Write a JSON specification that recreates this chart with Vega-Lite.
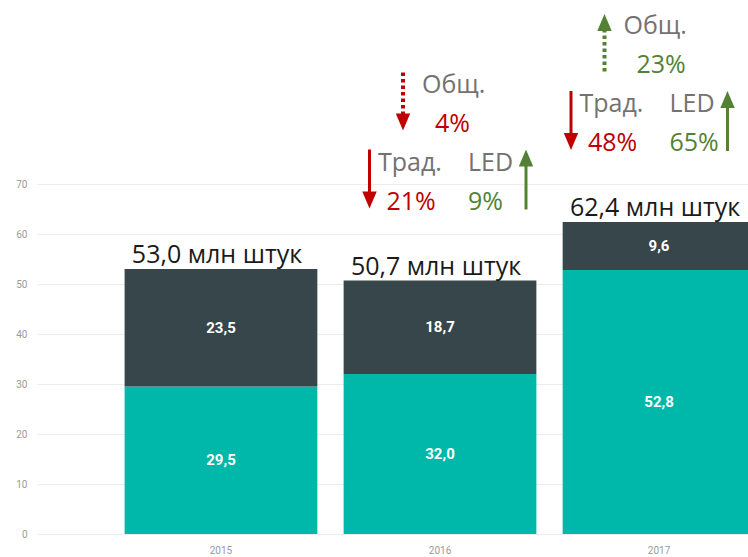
{
  "$schema": "https://vega.github.io/schema/vega-lite/v6.json",
  "autosize": "none",
  "padding": {"left": 37, "top": 0, "right": 0, "bottom": 23},
  "width": 806,
  "height": 534,
  "config": {
    "view": {"stroke": null},
    "locale": {"number": {"decimal": ",", "thousands": " ", "grouping": [3], "currency": ["", ""]}}
  },
  "datasets": {
    "bars": [
      {"year": "2015", "kind": "LED", "value": 29.5},
      {"year": "2015", "kind": "Трад.", "value": 23.5},
      {"year": "2016", "kind": "LED", "value": 32.0},
      {"year": "2016", "kind": "Трад.", "value": 18.7},
      {"year": "2017", "kind": "LED", "value": 52.8},
      {"year": "2017", "kind": "Трад.", "value": 9.6}
    ],
    "totals": [
      {"year": "2015", "total": 53.0, "label": "53,0 млн штук"},
      {"year": "2016", "total": 50.7, "label": "50,7 млн штук"},
      {"year": "2017", "total": 62.4, "label": "62,4 млн штук"}
    ],
    "changes": [
      {"year": "2016", "total": 50.7, "item": "Общ.", "pct": "4%", "dir": "down"},
      {"year": "2017", "total": 62.4, "item": "Общ.", "pct": "23%", "dir": "up"},
      {"year": "2016", "total": 50.7, "item": "Трад.", "pct": "21%", "dir": "down"},
      {"year": "2017", "total": 62.4, "item": "Трад.", "pct": "48%", "dir": "down"},
      {"year": "2016", "total": 50.7, "item": "LED", "pct": "9%", "dir": "up"},
      {"year": "2017", "total": 62.4, "item": "LED", "pct": "65%", "dir": "up"}
    ]
  },
  "layer": [
    {
      "layer": [
        {
          "data": {"name": "bars"},
          "mark": {"type": "bar"},
          "encoding": {
            "x": {
              "field": "year", "type": "nominal",
              "scale": {"type": "band", "paddingInner": 0.12, "paddingOuter": 0.4},
              "axis": {"title": null, "labelAngle": 0, "domain": false, "ticks": false, "grid": false, "labelPadding": 11, "labelColor": "#9a9a9a", "labelFont": "Roboto", "labelFontSize": 10}
            },
            "y": {
              "field": "value", "type": "quantitative", "stack": "zero",
              "scale": {"domain": [0, 106.8], "nice": false, "zero": true},
              "axis": {"title": null, "values": [0, 10, 20, 30, 40, 50, 60, 70], "domain": false, "ticks": false, "labelPadding": 10, "gridColor": "#ececec", "labelColor": "#9a9a9a", "labelFont": "Roboto", "labelFontSize": 10}
            },
            "color": {"field": "kind", "type": "nominal", "scale": {"domain": ["LED", "Трад."], "range": ["#00B8AA", "#37464B"]}, "legend": null},
            "order": {"field": "kind", "sort": "ascending"}
          }
        },
        {
          "data": {"name": "bars"},
          "mark": {"type": "text", "color": "white", "font": "Roboto", "fontSize": 15, "fontWeight": "bold", "baseline": "middle"},
          "encoding": {
            "x": {"field": "year", "type": "nominal"},
            "y": {"field": "value", "type": "quantitative", "stack": "zero", "bandPosition": 0.5, "title": null},
            "detail": {"field": "kind"},
            "order": {"field": "kind", "sort": "ascending"},
            "text": {"field": "value", "type": "quantitative", "format": ".1f"}
          }
        },
        {
          "data": {"name": "totals"},
          "mark": {"type": "text", "font": "Open Sans", "fontSize": 25, "color": "#1a1a1a", "baseline": "alphabetic", "dy": -6, "dx": -4},
          "encoding": {
            "x": {"field": "year", "type": "nominal"},
            "y": {"field": "total", "type": "quantitative", "title": null},
            "text": {"field": "label"}
          }
        }
      ]
    },
    {
      "data": {"name": "changes"},
      "encoding": {
        "x": {"field": "year", "type": "nominal", "scale": {"type": "point", "padding": 1, "domain": ["2015", "2016", "2017"]}, "axis": null},
        "y": {"field": "total", "type": "quantitative", "title": null},
        "color": {"field": "dir", "type": "nominal", "scale": {"domain": ["down", "up"], "range": ["#C00000", "#548235"]}, "legend": null}
      },
      "layer": [
        {
          "transform": [{"filter": "datum.item == 'Общ.'"}],
          "mark": {"type": "text", "font": "Open Sans", "fontSize": 25, "align": "left", "baseline": "alphabetic", "dx": -18, "dy": -188},
          "encoding": {"text": {"field": "item"}, "color": {"value": "#767171"}}
        },
        {
          "transform": [{"filter": "datum.item == 'Общ.'"}],
          "mark": {"type": "text", "font": "Open Sans", "fontSize": 25, "align": "left", "baseline": "alphabetic", "dx": -5, "dy": -149},
          "encoding": {"text": {"field": "pct"}}
        },
        {
          "transform": [{"filter": "datum.item == 'Трад.'"}],
          "mark": {"type": "text", "font": "Open Sans", "fontSize": 25, "align": "left", "baseline": "alphabetic", "dx": -62, "dy": -110},
          "encoding": {"text": {"field": "item"}, "color": {"value": "#767171"}}
        },
        {
          "transform": [{"filter": "datum.item == 'Трад.'"}],
          "mark": {"type": "text", "font": "Open Sans", "fontSize": 25, "align": "left", "baseline": "alphabetic", "dx": -53.5, "dy": -71},
          "encoding": {"text": {"field": "pct"}}
        },
        {
          "transform": [{"filter": "datum.item == 'LED'"}],
          "mark": {"type": "text", "font": "Open Sans", "fontSize": 25, "align": "left", "baseline": "alphabetic", "dx": 28, "dy": -110},
          "encoding": {"text": {"field": "item"}, "color": {"value": "#767171"}}
        },
        {
          "transform": [{"filter": "datum.item == 'LED'"}],
          "mark": {"type": "text", "font": "Open Sans", "fontSize": 25, "align": "left", "baseline": "alphabetic", "dx": 28, "dy": -71},
          "encoding": {"text": {"field": "pct"}}
        },
        {
          "transform": [{"filter": "datum.item == 'Общ.' && datum.dir == 'down'"}],
          "mark": {"type": "rule", "xOffset": -37, "yOffset": -208, "y2Offset": -158, "strokeWidth": 4, "strokeDash": [3.5, 3]},
          "encoding": {"y2": {"field": "total"}}
        },
        {
          "transform": [{"filter": "datum.item == 'Общ.' && datum.dir == 'up'"}],
          "mark": {"type": "rule", "xOffset": -37, "yOffset": -199.5, "y2Offset": -150, "strokeWidth": 4, "strokeDash": [3.5, 3]},
          "encoding": {"y2": {"field": "total"}}
        },
        {
          "transform": [{"filter": "datum.item == 'Общ.' && datum.dir == 'down'"}],
          "mark": {"type": "point", "shape": "M-0.85,-1L0.85,-1L0,1Z", "size": 289, "filled": true, "opacity": 1, "strokeWidth": 0, "xOffset": -37, "yOffset": -158.5}
        },
        {
          "transform": [{"filter": "datum.item == 'Общ.' && datum.dir == 'up'"}],
          "mark": {"type": "point", "shape": "M-0.85,1L0.85,1L0,-1Z", "size": 289, "filled": true, "opacity": 1, "strokeWidth": 0, "xOffset": -37, "yOffset": -199.5}
        },
        {
          "transform": [{"filter": "datum.item == 'Трад.'"}],
          "mark": {"type": "rule", "xOffset": -70.5, "yOffset": -131, "y2Offset": -80, "strokeWidth": 3},
          "encoding": {"y2": {"field": "total"}}
        },
        {
          "transform": [{"filter": "datum.item == 'Трад.'"}],
          "mark": {"type": "point", "shape": "M-0.85,-1L0.85,-1L0,1Z", "size": 289, "filled": true, "opacity": 1, "strokeWidth": 0, "xOffset": -70.5, "yOffset": -80.5}
        },
        {
          "transform": [{"filter": "datum.item == 'LED'"}],
          "mark": {"type": "rule", "xOffset": 86, "yOffset": -122.5, "y2Offset": -71, "strokeWidth": 3},
          "encoding": {"y2": {"field": "total"}}
        },
        {
          "transform": [{"filter": "datum.item == 'LED'"}],
          "mark": {"type": "point", "shape": "M-0.85,1L0.85,1L0,-1Z", "size": 289, "filled": true, "opacity": 1, "strokeWidth": 0, "xOffset": 86, "yOffset": -122.5}
        }
      ]
    }
  ],
  "resolve": {"scale": {"x": "independent", "color": "independent"}}
}
